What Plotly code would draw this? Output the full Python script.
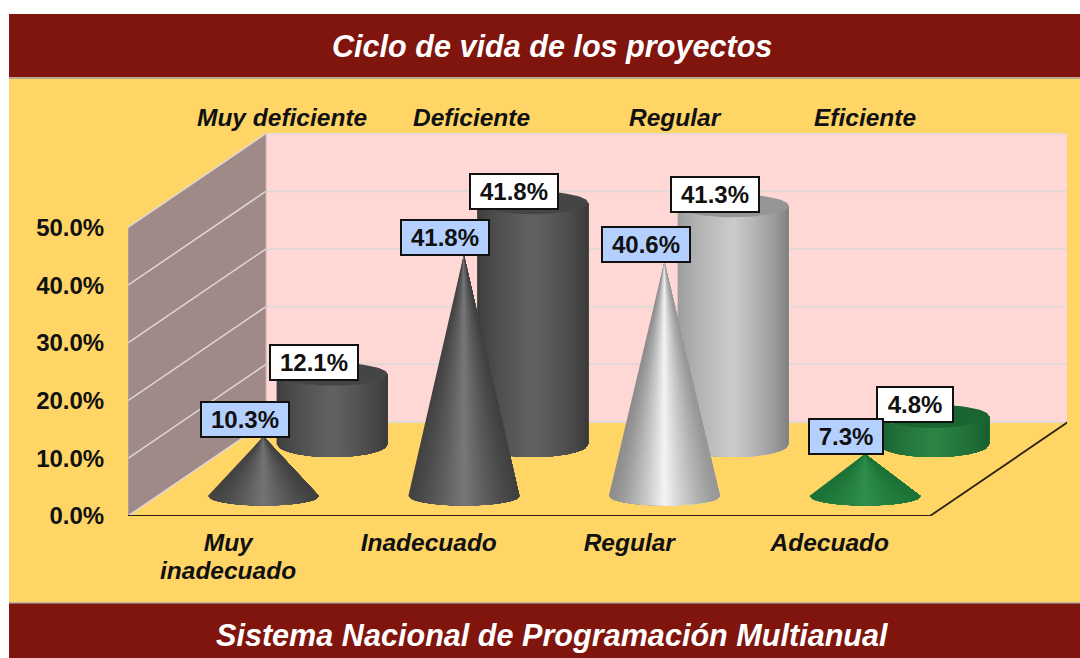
import math
import plotly.graph_objects as go

# ---- data ----
TITLE = "Ciclo de vida de los proyectos"
FOOTER = "Sistema Nacional de Programación Multianual"
front_categories = ["Muy", "Inadecuado", "Regular", "Adecuado"]
front_category_second_line = "inadecuado"
back_categories = ["Muy deficiente", "Deficiente", "Regular", "Eficiente"]
cone_values = [10.3, 41.8, 40.6, 7.3]
cylinder_values = [12.1, 41.8, 41.3, 4.8]
y_ticks = [0, 10, 20, 30, 40, 50]

# ---- styles / geometry ----
W, H = 1080, 658
L, R, T, B = 128, 1067, 133, 516
XU = 200.5          # px per category
YU = 5.77           # px per percent
X_MAX = (R - L) / XU
Y_MAX = (B - T) / YU
DX, DY = 138 / XU, 94 / YU
RX = 55.5 / XU
CONE_DX, CONE_DY = 0.175, 20 / YU
CONE_RY = 9.5 / YU
CYL_DX, CYL_DY = 0.518, 72 / YU
CYL_RY = 13 / YU
CYL_TOP_RY = 11.5 / YU
NSTRIPES = 40
FONT = "Liberation Sans"

CYL_COL = [
    {"l": "#3a3a3a", "m": "#626262", "r": "#383838", "top": "#454545"},
    {"l": "#3a3a3a", "m": "#626262", "r": "#383838", "top": "#454545"},
    {"l": "#9a9a9a", "m": "#cbcbcb", "r": "#7c7c7c", "top": "#959595"},
    {"l": "#175c2d", "m": "#2c8546", "r": "#175c2d", "top": "#1a6532"},
]
CONE_COL = [
    {"l": "#424242", "m": "#747474", "r": "#404040"},
    {"l": "#424242", "m": "#787878", "r": "#404040"},
    {"l": "#8c8c8c", "m": "#f4f4f4", "r": "#969696"},
    {"l": "#1b7236", "m": "#2f8f4c", "r": "#1b7236"},
]


def hex2rgb(c):
    return tuple(int(c[i:i + 2], 16) for i in (1, 3, 5))


def lerp(a, b, f):
    a, b = hex2rgb(a), hex2rgb(b)
    return "rgb(%d,%d,%d)" % tuple(round(a[i] + (b[i] - a[i]) * f) for i in range(3))


def shade(u, col, power):
    if u < 0:
        return lerp(col["l"], col["m"], (1 + u) ** power)
    return lerp(col["r"], col["m"], (1 - u) ** power)


fig = go.Figure()


def poly(xs, ys, color):
    fig.add_trace(go.Scatter(x=xs, y=ys, mode="lines", fill="toself", fillcolor=color,
                             line=dict(width=0), hoverinfo="skip", showlegend=False))


def front_arc(start):
    """Angles from a horizontal fraction start (0 = left edge) to the right edge."""
    out = []
    for i in range(start, NSTRIPES + 1):
        out.append(math.acos(2 * i / NSTRIPES - 1))
    return out


def ellipse(cx, cy, ry, n=60):
    xs = [cx + RX * math.cos(2 * math.pi * i / n) for i in range(n + 1)]
    ys = [cy + ry * math.sin(2 * math.pi * i / n) for i in range(n + 1)]
    return xs, ys


def cylinder(i, value, col):
    cx, cy = i + 0.5 + CYL_DX, CYL_DY
    for k in range(NSTRIPES):
        arc = front_arc(k)
        bx = [cx + RX * math.cos(t) for t in arc]
        by = [cy - CYL_RY * math.sin(t) for t in arc]
        tx = bx[::-1]
        ty = [value + cy - CYL_TOP_RY * math.sin(t) for t in arc][::-1]
        u = (2 * k + 1) / NSTRIPES - 1
        poly(bx + tx + bx[:1], by + ty + by[:1], shade(u, col, 0.7))
    ex, ey = ellipse(cx, value + cy, CYL_TOP_RY)
    poly(ex, ey, col["top"])


def cone(i, value, col):
    cx, cy = i + 0.5 + CONE_DX, CONE_DY
    for k in range(NSTRIPES):
        arc = front_arc(k)
        bx = [cx + RX * math.cos(t) for t in arc]
        by = [cy - CONE_RY * math.sin(t) for t in arc]
        u = (2 * k + 1) / NSTRIPES - 1
        poly(bx + [cx] + bx[:1], by + [value + cy] + by[:1], shade(u, col, 1.3))


for i, v in enumerate(cylinder_values):
    cylinder(i, v, CYL_COL[i])
for i, v in enumerate(cone_values):
    cone(i, v, CONE_COL[i])


def xp(px):
    return (px - L) / (R - L)


def yp(py):
    return (B - py) / (B - T)


def band(x0, y0, x1, y1, color, layer="below"):
    return dict(type="rect", xref="paper", yref="paper", x0=xp(x0), x1=xp(x1), y0=yp(y0), y1=yp(y1),
                fillcolor=color, line_width=0, layer=layer)


def seg(x0, y0, x1, y1, color, width):
    return dict(type="line", xref="x", yref="y", x0=x0, y0=y0, x1=x1, y1=y1,
                line=dict(color=color, width=width), layer="below")


top = y_ticks[-1]
shapes = [
    band(9, 14, W + 2, H + 2, "#FFD566"),
    band(9, 14, W + 2, 77, "#7F150D"),
    band(9, 77, W + 2, 79, "#B9A98F"),
    band(9, 603, W + 2, H + 2, "#7F150D"),
    band(9, 602, W + 2, 603.5, "#B9B5A8"),
    dict(type="path", xref="x", yref="y", layer="below", fillcolor="#A08A88", line_width=0,
         path=f"M0,0 L0,{top} L{DX},{top + DY} L{DX},{DY} Z"),
    dict(type="path", xref="x", yref="y", layer="below", fillcolor="#FFD8D6", line_width=0,
         path=f"M{DX},{DY} L{DX},{top + DY} L{4 + DX},{top + DY} L{4 + DX},{DY} Z"),
]
for t in y_ticks:
    shapes.append(seg(DX, t + DY, 4 + DX, t + DY, "#E2D8D6", 2))
    shapes.append(seg(0, t, DX, t + DY, "#DDD8D8", 1.5))
shapes.append(seg(DX, DY, DX, top + DY, "#C8B4B2", 1))
shapes.append(seg(0, 0, 0, top, "#B9AFA8", 1))
shapes.append(seg(0, 0, 4, 0, "#2a2412", 1.8))
shapes.append(seg(4, 0, 4 + DX, DY, "#2a2412", 1.8))
fig.update_layout(shapes=shapes)

bold_it = dict(family=FONT, weight="bold", style="italic", color="#111111", size=24.5)
ann = []
title_font = dict(family=FONT, weight="bold", style="italic", color="white", size=30.6)
ann.append(dict(text=TITLE, xref="paper", yref="paper", x=xp(552), y=yp(46), showarrow=False,
                xanchor="center", yanchor="middle", font=title_font))
ann.append(dict(text=FOOTER, xref="paper", yref="paper", x=xp(552), y=yp(635), showarrow=False,
                xanchor="center", yanchor="middle", font=title_font))
back_x = [282, 471, 675, 865]
for name, px in zip(back_categories, back_x):
    ann.append(dict(text=name, xref="x", yref="paper", x=(px - L) / XU, y=yp(118), showarrow=False,
                    xanchor="center", yanchor="middle", font=bold_it))
ann.append(dict(text=front_category_second_line, xref="x", yref="paper", x=0.5, y=yp(570), showarrow=False,
                xanchor="center", yanchor="middle", font=bold_it))


def data_label(x, y, v, fill, w):
    ann.append(dict(text=f"{v:.1f}%", x=x, y=y, xref="x", yref="y", showarrow=False,
                    xshift=-18.5, xanchor="center", yanchor="middle", bgcolor=fill,
                    bordercolor="#111111", borderwidth=2,
                    width=w, height=31, borderpad=1, valign="middle", align="center",
                    font=dict(family=FONT, weight="bold", color="#111111", size=24)))


for i, v in enumerate(cylinder_values):
    a_y = v + CYL_DY + 11.5 / YU
    data_label(i + 0.5 + CYL_DX, a_y, v, "#FFFFFF", 84 if v >= 10 else 72)
for i, v in enumerate(cone_values):
    a_y = v + CONE_DY + 17 / YU
    data_label(i + 0.5 + CONE_DX, a_y, v, "#B4D0FF", 84 if v >= 10 else 70)

fig.update_layout(
    width=W, height=H, margin=dict(l=L, r=W - R, t=T, b=H - B, pad=0),
    paper_bgcolor="white", plot_bgcolor="rgba(0,0,0,0)", annotations=ann, showlegend=False,
    xaxis=dict(range=[0, X_MAX], tickvals=[0.5, 1.5, 2.5, 3.5], ticktext=front_categories,
               showgrid=False, zeroline=False, showline=False, ticks="outside", ticklen=5,
               tickcolor="rgba(0,0,0,0)", tickfont=bold_it, tickangle=0),
    yaxis=dict(range=[0, Y_MAX], tickvals=y_ticks, ticktext=[f"{t:.1f}%" for t in y_ticks],
               showgrid=False, zeroline=False, showline=False, ticks="outside", ticklen=18,
               tickcolor="rgba(0,0,0,0)",
               tickfont=dict(family=FONT, weight="bold", color="#111111", size=24)),
)
fig.write_html("out.html", config={"displayModeBar": False},
               post_script="document.body.style.margin='0';document.body.style.overflow='hidden';")
